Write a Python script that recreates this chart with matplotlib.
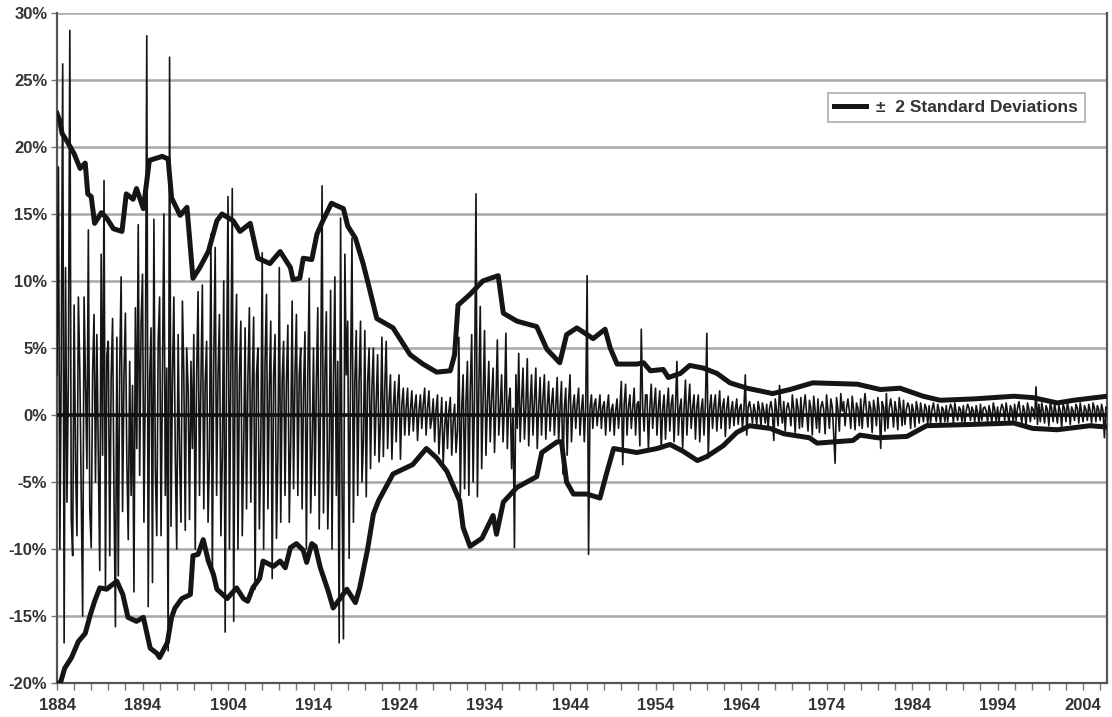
import numpy as np
import matplotlib
matplotlib.use("Agg")
import matplotlib.pyplot as plt
from matplotlib.ticker import MultipleLocator, FuncFormatter

# ---------------- data (percent), bi-monthly samples (6 per year) starting 1884.0 ----------------
ret_1884 = [3.0, 18.5, -10.0, 4.2, 26.2, -17.0,
            11.0, -6.5, 3.0, 28.7, -7.7, -10.5,
            8.2, -3.5, -9.0, 8.8, 3.4, -5.8,
            -15.0, 8.8, 2.5, -4.0, 13.8, -7.0,
            -9.9, 3.2, 7.5, -5.0, 6.0, -3.2,
            -11.6, 12.0, -3.0, 17.5, -12.8, 4.5,
            5.5, -10.5, 2.8, 7.2, -6.0, -15.8,
            5.8, -12.0, 3.5, 10.3, -7.2, 3.0,
            7.6, -3.4, -9.3, 4.0, -6.0, 2.2,
            -13.2, 8.0, -2.5, 14.2, -4.5, 6.8]
ret_1894 = [10.5, -8.0, 3.0, 28.3, -14.3, 2.5,
            6.5, -12.5, 14.6, -4.0, -9.0, 5.5,
            8.8, -9.0, 3.0, 15.0, -6.0, 3.5,
            -17.6, 26.7, -8.3, 2.5, 8.8, -3.0,
            -10.0, 6.0, -3.0, -8.0, 8.5, 3.0,
            -8.6, 5.0, 2.0, -7.8, 4.0, -2.5,
            6.0, -10.0, 3.0, 9.2, -6.0, 2.5,
            9.7, -7.0, 2.5, 5.5, -8.0, -3.0,
            13.5, -12.0, 4.0, 12.5, -6.0, 3.0,
            7.5, -9.0, -3.0, 10.0, -16.2, 3.5]
ret_1904 = [16.3, -10.0, 3.0, 16.9, -15.4, 4.0,
            9.0, -10.0, 3.0, 7.0, -9.0, -2.5,
            6.5, -7.0, 3.0, 8.0, -6.5, 2.0,
            7.3, -13.0, 3.0, 5.0, -8.5, -2.5,
            12.1, -10.0, 4.0, 9.0, -7.0, 2.0,
            7.0, -12.2, 3.0, 6.0, -9.2, -3.0,
            11.0, -8.0, 2.5, 5.5, -6.0, 2.5,
            6.7, -8.0, -2.0, 8.5, -5.5, 3.0,
            7.5, -6.0, 3.0, 5.0, -7.0, 2.0,
            6.2, -10.0, 3.0, 10.2, -7.3, -2.5]
ret_1914 = [5.0, -6.0, 2.5, 8.0, -8.5, 2.0,
            17.1, -7.3, 3.0, 7.7, -8.5, -3.0,
            9.3, -10.0, 3.0, 10.3, -6.0, 4.0,
            -17.0, 14.7, -5.0, -16.7, 12.0, 3.0,
            7.0, -10.7, 3.0, 13.2, -8.0, 2.5,
            6.3, -6.0, 2.5, 7.0, -5.0, -2.0,
            6.3, -6.1, 2.5, 5.0, -4.0, 2.0,
            5.0, -3.0, 1.0, 4.5, -3.5, -0.5,
            5.8, -3.1, 2.0, 5.5, -2.5, 1.0,
            3.0, -3.3, 0.5, 2.5, -2.0, 1.2]
ret_1924 = [3.0, -3.3, 0.8, 2.0, -1.5, 0.5,
            2.0, -1.5, 0.4, 1.8, -1.2, 0.6,
            1.5, -1.9, 0.3, 1.5, -1.0, 0.8,
            2.0, -1.5, 0.5, 1.8, -1.0, -0.3,
            1.2, -2.0, 0.4, 1.5, -2.9, -0.8,
            1.3, -3.7, -1.0, 1.0, -2.5, 0.3,
            1.3, -3.0, -0.5, 0.8, -2.8, -1.2,
            5.8, -6.1, 0.5, 3.0, -5.5, 1.0,
            4.0, -6.0, 2.0, 6.0, -5.0, 1.5,
            16.5, -6.1, 2.0, 8.1, -4.0, 1.0]
ret_1934 = [6.3, -3.0, 0.8, 4.0, -2.0, 1.2,
            3.5, -2.8, 1.0, 5.6, -1.5, 0.5,
            3.0, -2.0, 0.8, 6.1, -2.5, 1.0,
            2.0, -4.0, 0.5, -9.9, 3.0, -1.0,
            4.6, -2.0, 1.0, 3.5, -1.8, 0.6,
            4.2, -2.3, 0.8, 3.0, -1.5, 1.0,
            3.5, -2.5, 0.5, 2.8, -1.5, 1.2,
            3.0, -1.8, 0.6, 2.5, -1.2, 0.8,
            2.0, -1.5, 0.7, 2.8, -2.0, 0.5,
            2.5, -4.4, 0.5, 2.0, -3.0, 1.0]
ret_1944 = [3.0, -2.0, 0.5, 1.5, -1.0, 0.8,
            2.0, -1.5, 0.4, 1.5, -2.0, 0.6,
            10.4, -10.4, 0.5, 1.5, -1.0, 0.8,
            1.2, -0.8, 0.4, 1.5, -1.0, 0.6,
            1.0, -1.5, 0.5, 1.5, -1.2, 0.4,
            0.8, -1.5, 0.3, 1.2, -1.0, 0.5,
            2.5, -3.7, 0.8, 2.3, -1.5, 0.6,
            1.5, -1.0, 0.5, 2.0, -1.5, 0.8,
            1.0, -2.3, 6.4, 0.5, -1.2, 1.5,
            1.5, -2.6, 0.5, 2.3, -1.0, 0.7]
ret_1954 = [2.0, -1.5, 0.6, 1.8, -2.5, 0.4,
            1.5, -1.8, 0.5, 2.0, -1.2, 0.8,
            1.5, -2.0, 0.6, 4.0, -1.5, 0.5,
            1.2, -2.5, 0.4, 2.6, -1.5, 0.7,
            2.3, -1.0, 0.5, 1.5, -1.8, 0.6,
            1.5, -2.0, 0.4, 1.2, -1.5, 0.8,
            6.1, -3.2, 0.5, 1.5, -1.0, 0.7,
            1.5, -1.2, 0.4, 1.8, -1.0, 0.6,
            1.2, -1.6, 0.5, 1.4, -1.0, 0.3,
            1.0, -0.8, 0.4, 1.2, -0.7, 0.5]
ret_1964 = [0.8, -1.0, 0.4, 3.0, -1.5, 0.6,
            1.0, 0.3, -0.6, 0.8, 0.2, -0.7,
            1.0, 0.4, -0.8, 0.9, 0.3, -0.6,
            0.8, -1.0, 0.5, 1.0, 0.2, -1.9,
            1.2, 0.3, -0.8, 2.2, 0.4, -0.6,
            1.0, -1.2, 0.5, 0.9, 0.3, -0.8,
            1.5, 0.4, -1.3, 1.2, 0.5, -1.0,
            1.3, -0.9, 0.6, 1.5, 0.2, -1.2,
            1.1, 0.5, -1.5, 1.4, 0.3, -1.0,
            1.2, -1.3, 0.6, 1.0, 0.4, -1.4]
ret_1974 = [1.5, 0.3, -1.0, 1.2, 0.6, -1.4,
            -3.6, 1.3, 0.4, -1.2, 1.6, 0.3,
            1.0, -0.8, 0.5, 1.2, 0.3, -1.0,
            1.4, 0.4, -1.1, 0.9, 0.5, -0.8,
            1.2, -1.0, 0.6, 1.6, 0.3, -0.9,
            1.0, 0.5, -1.3, 1.1, 0.4, -0.8,
            1.3, 0.3, -2.5, 1.0, 0.6, -1.2,
            1.6, -1.0, 0.5, 1.2, 0.4, -0.9,
            1.0, 0.3, -1.1, 1.3, 0.5, -0.8,
            1.1, -0.7, 0.4, 0.9, 0.6, -1.0]
ret_1984 = [0.8, 0.3, -0.9, 1.0, 0.4, -0.6,
            0.9, 0.2, -0.5, 0.8, 0.5, -0.7,
            0.7, -0.6, 0.4, 0.9, 0.2, -0.5,
            0.8, 0.3, -0.7, 0.6, 0.4, -0.5,
            0.7, -0.5, 0.3, 0.8, 0.5, -0.6,
            0.9, 0.2, -0.4, 0.6, 0.4, -0.5,
            0.7, -0.6, 0.3, 0.8, 0.5, -0.4,
            0.6, 0.3, -0.5, 0.7, 0.2, -0.6,
            0.8, -0.4, 0.5, 0.6, 0.3, -0.5,
            0.7, 0.2, -0.6, 0.9, 0.4, -0.5]
ret_1994 = [0.6, -0.5, 0.3, 0.8, 0.5, -0.4,
            0.9, 0.2, -0.6, 0.7, 0.4, -0.5,
            0.8, -0.4, 0.5, 1.0, 0.2, -0.6,
            0.7, 0.3, -0.8, 0.9, 0.4, -0.5,
            0.6, 0.4, -0.3, 2.1, -0.7, 0.8,
            -0.5, 0.9, 0.3, -0.6, 0.7, 0.4,
            -0.8, 1.0, 0.4, -0.5, 0.9, 0.2,
            -0.6, 0.7, 0.3, -0.9, 0.8, 0.5,
            -0.5, 0.9, 0.4, -0.7, 0.6, 0.3,
            -0.4, 0.8, 0.5, -0.6, 0.9, 0.2,
            -0.5, 0.7, 0.4, -0.4, 0.8, 0.3,
            -0.6, 0.9, 0.5, -0.5, 0.7, 0.4,
            -0.4, 0.8, 0.3, -1.7, 0.6, 0.5]

upper_years = [1884.0, 1884.3, 1884.6, 1885.2, 1886.0, 1886.7, 1887.3, 1887.6, 1888.0, 1888.4,
               1889.2, 1889.8, 1890.6, 1891.6, 1892.1, 1892.9, 1893.3, 1894.1, 1894.8, 1896.3,
               1897.0, 1897.4, 1898.4, 1899.2, 1899.9, 1900.7, 1901.7, 1902.7, 1903.3, 1904.6,
               1905.4, 1906.6, 1907.5, 1908.9, 1910.1, 1911.3, 1911.6, 1912.4, 1912.8, 1913.8,
               1914.4, 1915.1, 1916.1, 1917.5, 1918.0, 1918.9, 1919.8, 1920.4, 1921.4, 1923.3,
               1925.3, 1926.8, 1928.4, 1930.0, 1930.5, 1930.9, 1932.3, 1933.8, 1935.6, 1936.2,
               1937.8, 1940.1, 1941.3, 1942.8, 1943.6, 1944.8, 1946.7, 1948.1, 1948.7, 1949.5,
               1951.8, 1952.6, 1953.4, 1954.9, 1955.5, 1956.9, 1958.0, 1959.6, 1961.2, 1962.7,
               1964.7, 1967.7, 1969.7, 1972.4, 1977.6, 1980.3, 1982.6, 1985.3, 1987.3, 1991.2,
               1995.9, 1998.1, 2001.0, 2002.9, 2006.8]
upper_band = [22.5, 22.0, 21.0, 20.4, 19.5, 18.4, 18.8, 16.5, 16.3, 14.3,
              15.1, 14.7, 13.9, 13.7, 16.5, 16.1, 16.9, 15.4, 19.0, 19.3,
              19.1, 16.2, 14.9, 15.5, 10.2, 11.0, 12.2, 14.5, 15.0, 14.5,
              13.7, 14.3, 11.7, 11.3, 12.2, 11.0, 10.1, 10.2, 11.7, 11.6,
              13.5, 14.5, 15.8, 15.4, 14.1, 13.2, 11.3, 9.8, 7.2, 6.5,
              4.5, 3.8, 3.2, 3.3, 4.5, 8.2, 9.0, 10.0, 10.4, 7.6,
              7.0, 6.6, 4.9, 3.9, 6.0, 6.5, 5.7, 6.4, 5.0, 3.8,
              3.8, 3.9, 3.3, 3.4, 2.8, 3.1, 3.7, 3.5, 3.1, 2.4,
              2.0, 1.6, 1.9, 2.4, 2.3, 1.9, 2.0, 1.4, 1.1, 1.2,
              1.4, 1.3, 0.9, 1.1, 1.4]

lower_years = [1884.0, 1884.4, 1884.9, 1885.7, 1886.5, 1887.3, 1887.9, 1888.4, 1889.0, 1889.8,
               1891.0, 1891.7, 1892.3, 1893.3, 1894.1, 1894.9, 1895.7, 1896.0, 1896.9, 1897.4,
               1897.8, 1898.6, 1899.6, 1899.9, 1900.5, 1901.1, 1901.7, 1902.3, 1902.7, 1903.9,
               1905.0, 1905.8, 1906.3, 1906.9, 1907.7, 1908.1, 1909.3, 1910.1, 1910.7, 1911.3,
               1912.0, 1912.8, 1913.2, 1913.8, 1914.2, 1914.8, 1915.7, 1916.3, 1917.1, 1917.9,
               1918.9, 1919.4, 1920.3, 1921.0, 1921.6, 1923.3, 1925.6, 1927.2, 1928.4, 1929.6,
               1931.1, 1931.5, 1932.3, 1933.7, 1935.0, 1935.4, 1936.2, 1937.8, 1940.1, 1940.7,
               1942.5, 1943.0, 1943.6, 1944.4, 1946.0, 1947.5, 1948.3, 1949.1, 1951.8, 1954.2,
               1955.7, 1957.2, 1958.9, 1960.0, 1961.9, 1963.5, 1965.0, 1967.4, 1969.0, 1972.0,
               1972.9, 1977.1, 1977.9, 1980.0, 1983.4, 1985.7, 1991.2, 1995.9, 1998.1, 2001.0,
               2004.8, 2006.8]
lower_band = [-20.0, -20.0, -18.9, -18.1, -16.9, -16.3, -14.9, -13.9, -12.9, -13.0,
              -12.4, -13.4, -15.1, -15.4, -15.1, -17.4, -17.8, -18.1, -17.0, -15.1,
              -14.4, -13.7, -13.4, -10.5, -10.4, -9.3, -10.9, -11.9, -13.0, -13.7,
              -12.9, -13.7, -13.9, -12.9, -12.2, -10.9, -11.3, -10.9, -11.4, -9.9,
              -9.6, -10.1, -11.0, -9.6, -9.8, -11.4, -13.1, -14.4, -13.7, -13.0,
              -14.0, -12.9, -10.1, -7.4, -6.4, -4.4, -3.7, -2.5, -3.2, -4.2,
              -6.4, -8.4, -9.8, -9.2, -7.5, -8.9, -6.5, -5.4, -4.6, -2.8,
              -2.0, -2.0, -5.0, -5.9, -5.9, -6.2, -4.3, -2.5, -2.8, -2.5,
              -2.2, -2.7, -3.4, -3.1, -2.3, -1.3, -0.8, -1.0, -1.4, -1.7,
              -2.1, -1.9, -1.5, -1.7, -1.6, -0.8, -0.7, -0.6, -1.0, -1.1,
              -0.8, -0.9]

returns = np.array(ret_1884 + ret_1894 + ret_1904 + ret_1914 + ret_1924 + ret_1934 +
                   ret_1944 + ret_1954 + ret_1964 + ret_1974 + ret_1984 + ret_1994)
start_year = 1884.0
per_year = 6
years = start_year + np.arange(len(returns)) / per_year

x_ticks = list(range(1884, 2005, 10))
y_ticks = list(range(-20, 31, 5))

# ---------------- plot ----------------
plt.rcParams['font.family'] = ['Liberation Sans', 'DejaVu Sans']
fig = plt.figure(figsize=(11.12, 7.17), dpi=100)
ax = fig.add_axes([57/1112, 1 - 683/717, 1050/1112, 670/717])

for yv in y_ticks:
    ax.axhline(yv, color='#a8a8a8', lw=1.8, zorder=1)

ax.plot(years, returns, color='#151515', lw=1.2, zorder=3)
ax.axhline(0, color='#111111', lw=2.6, zorder=4)
band_line, = ax.plot(upper_years, upper_band, color='#151515', lw=3.6, zorder=5,
                     solid_joinstyle='round', label='\u00b1  2 Standard Deviations')
ax.plot(lower_years, lower_band, color='#151515', lw=3.6, zorder=5, solid_joinstyle='round')

ax.set_xlim(1884, 2006.8)
ax.set_ylim(-20, 30)
ax.set_xticks(x_ticks)
ax.xaxis.set_minor_locator(MultipleLocator(2))
ax.set_yticks(y_ticks)
ax.yaxis.set_major_formatter(FuncFormatter(lambda v, p: f"{int(v)}%"))

ax.spines['top'].set_visible(False)
for s in ['left', 'right', 'bottom']:
    ax.spines[s].set_color('#555555')
    ax.spines[s].set_linewidth(1.6)

ax.tick_params(axis='x', which='both', direction='out', length=5, width=1, color='#777777',
               labelsize=12, labelcolor='#333333', pad=6)
ax.tick_params(axis='y', which='major', direction='out', length=4, width=1, color='#777777',
               labelsize=12, labelcolor='#333333', pad=3)
for lab in ax.get_xticklabels() + ax.get_yticklabels():
    lab.set_fontweight('bold')

leg = ax.legend(handles=[band_line], loc='upper right', bbox_to_anchor=(0.979, 0.881),
                borderaxespad=0, frameon=True, fancybox=False,
                prop={'weight': 'bold', 'size': 12.5},
                handlelength=1.8, handletextpad=0.6, borderpad=0.4, labelcolor='#333333')
leg.get_frame().set_edgecolor('#999999')
leg.get_frame().set_linewidth(1.2)
leg.set_zorder(10)

fig.savefig('out.png', dpi=100)
